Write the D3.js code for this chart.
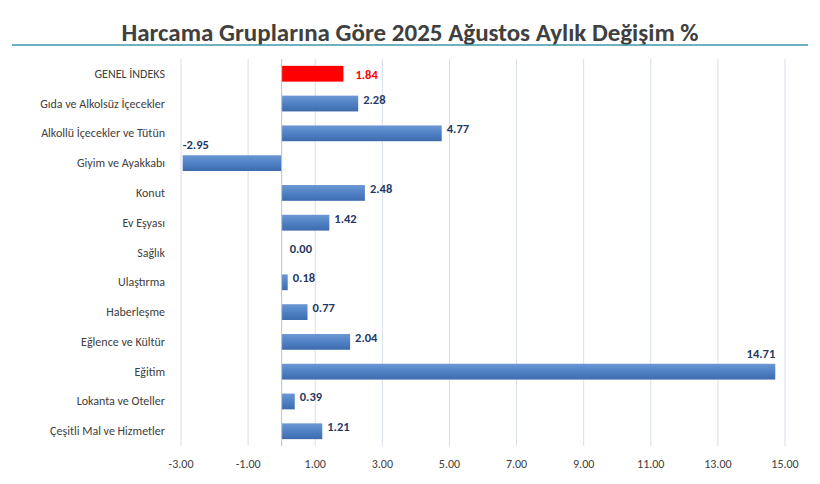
<!DOCTYPE html>
<html><head><meta charset="utf-8">
<script src="https://cdn.jsdelivr.net/npm/d3@7"></script>
<style>body{margin:0;background:#fff}</style></head>
<body><svg id="c" width="820" height="484"></svg>
<script>
const categories=["GENEL İNDEKS","Gıda ve Alkolsüz İçecekler","Alkollü İçecekler ve Tütün","Giyim ve Ayakkabı","Konut","Ev Eşyası","Sağlık","Ulaştırma","Haberleşme","Eğlence ve Kültür","Eğitim","Lokanta ve Oteller","Çeşitli Mal ve Hizmetler"];
const values=[1.84,2.28,4.77,-2.95,2.48,1.42,0.00,0.18,0.77,2.04,14.71,0.39,1.21];
const ticks=[-3,-1,1,3,5,7,9,11,13,15];
const title="Harcama Gruplarına Göre 2025 Ağustos Aylık Değişim %";
const svg=d3.select("#c");
const font="Calibri, Carlito, 'Liberation Sans', Arial, sans-serif";
const x=d3.scaleLinear().domain([-3,15]).range([181,785]);
const y=d3.scaleBand().domain(categories).range([59,446]).paddingInner(0.47).paddingOuter(0.23);
const defs=svg.append("defs");
const g=defs.append("linearGradient").attr("id","bg").attr("x1",0).attr("y1",0).attr("x2",0).attr("y2",1);
g.append("stop").attr("offset","0").attr("stop-color","#6c98d4");
g.append("stop").attr("offset","0.5").attr("stop-color","#4f81c4");
g.append("stop").attr("offset","1").attr("stop-color","#3d6cae");
svg.append("text").attr("x",410).attr("y",41).attr("text-anchor","middle").attr("font-family",font).attr("font-weight","bold").attr("font-size",25).attr("fill","#404040").text(title);
svg.append("line").attr("x1",12).attr("x2",808).attr("y1",45).attr("y2",45).attr("stroke","#3f97a8").attr("stroke-width",1.5);
svg.append("g").selectAll("line").data(ticks).join("line").attr("x1",d=>x(d)).attr("x2",d=>x(d)).attr("y1",59).attr("y2",446).attr("stroke","#d6dfea");
svg.append("g").selectAll("text").data(ticks).join("text").attr("x",d=>x(d)).attr("y",468).attr("text-anchor","middle").attr("font-family",font).attr("font-size",12).attr("fill","#404040").text(d=>d.toFixed(2));
svg.append("g").selectAll("text").data(categories).join("text").attr("x",165).attr("y",d=>y(d)+y.bandwidth()/2+4).attr("text-anchor","end").attr("font-family",font).attr("font-size",12).attr("fill","#404040").text(d=>d);
const rows=categories.map((c,i)=>({c,v:values[i],i}));
svg.append("g").selectAll("rect").data(rows).join("rect").attr("x",d=>x(Math.min(0,d.v))).attr("width",d=>Math.abs(x(d.v)-x(0))).attr("y",d=>y(d.c)).attr("height",y.bandwidth()).attr("fill",d=>d.i===0?"#ff0000":"url(#bg)");
svg.append("line").attr("x1",x(0)).attr("x2",x(0)).attr("y1",59).attr("y2",446).attr("stroke","#bfbfbf");
svg.append("g").selectAll("text").data(rows).join("text")
 .attr("x",d=>d.v<0?x(d.v):d.v>10?x(d.v):x(Math.max(d.v,0))+(d.i===0?12:d.v===0?8:5))
 .attr("y",d=>(d.v<0||d.v>10)?y(d.c)-6:y(d.c)+y.bandwidth()/2+(d.i===0?5:0))
 .attr("text-anchor",d=>d.v>10?"end":"start")
 .attr("font-family",font).attr("font-weight","bold").attr("font-size",12.5)
 .attr("fill",d=>d.i===0?"#ff0000":"#1f3864").text(d=>d.v.toFixed(2));
</script></body></html>
